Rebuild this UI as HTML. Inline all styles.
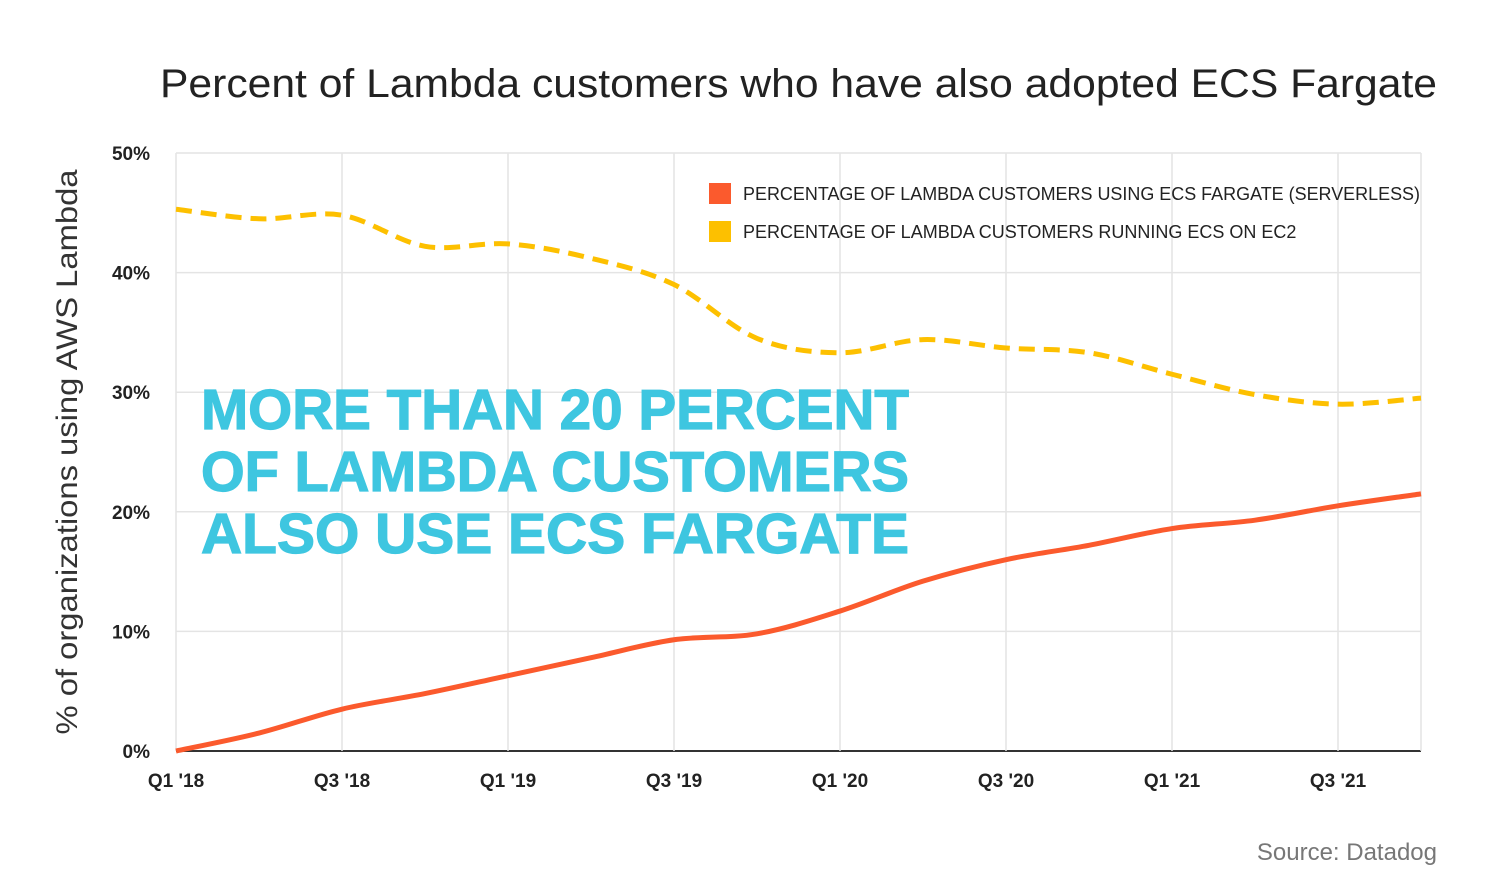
<!DOCTYPE html>
<html><head><meta charset="utf-8"><style>
html,body{margin:0;padding:0;background:#fff;}
svg{display:block;font-family:"Liberation Sans",sans-serif;}
</style></head><body>
<svg id="c" width="1500" height="891">
<text x="160" y="97" font-size="40" fill="#222" textLength="1277" lengthAdjust="spacingAndGlyphs">Percent of Lambda customers who have also adopted ECS Fargate</text>
<text transform="translate(77,452) rotate(-90)" text-anchor="middle" font-size="30" fill="#333" textLength="565" lengthAdjust="spacingAndGlyphs">% of organizations using AWS Lambda</text>
<g id="grid"></g><g id="series"></g>
<g>
<rect x="709" y="183" width="22" height="21" fill="#fb5a2d"/>
<text x="743" y="200" font-size="18" fill="#222" textLength="677" lengthAdjust="spacingAndGlyphs">PERCENTAGE OF LAMBDA CUSTOMERS USING ECS FARGATE (SERVERLESS)</text>
<rect x="709" y="221" width="22" height="21" fill="#fdc000"/>
<text x="743" y="238" font-size="18" fill="#222">PERCENTAGE OF LAMBDA CUSTOMERS RUNNING ECS ON EC2</text>
</g>
<g font-size="57" font-weight="bold" fill="#3ec6e0" stroke="#3ec6e0" stroke-width="1.2">
<text x="201" y="429" textLength="708" lengthAdjust="spacingAndGlyphs">MORE THAN 20 PERCENT</text>
<text x="201" y="491" textLength="708" lengthAdjust="spacingAndGlyphs">OF LAMBDA CUSTOMERS</text>
<text x="201" y="553" textLength="708" lengthAdjust="spacingAndGlyphs">ALSO USE ECS FARGATE</text>
</g>
<text x="1437" y="860" text-anchor="end" font-size="24" fill="#777">Source: Datadog</text>
</svg>
<script>
const quarters=["Q1 '18","Q2 '18","Q3 '18","Q4 '18","Q1 '19","Q2 '19","Q3 '19","Q4 '19","Q1 '20","Q2 '20","Q3 '20","Q4 '20","Q1 '21","Q2 '21","Q3 '21","Q4 '21"];
const fargate=[0,1.5,3.5,4.8,6.3,7.8,9.3,9.8,11.7,14.2,16.0,17.2,18.6,19.3,20.5,21.5];
const ec2=[45.3,44.5,44.8,42.2,42.4,41.2,39.0,34.5,33.3,34.4,33.7,33.3,31.5,29.8,29.0,29.5];
const yTicks=[0,10,20,30,40,50];
const NS="http://www.w3.org/2000/svg";
const x=i=>176+i*(1421-176)/(quarters.length-1);
const y=v=>751-v*(751-153)/50;
function mk(t,a,p){const e=document.createElementNS(NS,t);for(const k in a)e.setAttribute(k,a[k]);p.appendChild(e);return e;}
const grid=document.getElementById('grid'),ser=document.getElementById('series');
yTicks.forEach(v=>{
 const l=mk('line',{x1:176,x2:1421,y1:y(v),y2:y(v),stroke:v===0?'#333':'#e4e4e4','stroke-width':v===0?2:1.5},grid);
 
 
 const t=mk('text',{x:150,y:y(v)+7,'text-anchor':'end','font-size':19,'font-weight':'bold',fill:'#222'},grid);
 t.textContent=v+'%';
 
 
});
quarters.forEach((q,i)=>{
 if(i%2)return;
 const l=mk('line',{x1:x(i),x2:x(i),y1:153,y2:751,stroke:'#e4e4e4','stroke-width':1.5},grid);
 
 
 const t=mk('text',{x:x(i),y:787,'text-anchor':'middle','font-size':19,'font-weight':'bold',fill:'#222'},grid);
 t.textContent=q;
 
 
});
const vr=mk('line',{x1:1421,x2:1421,y1:153,y2:751,stroke:'#e4e4e4','stroke-width':1.5},grid);


function path(vals){const p=vals.map((v,i)=>[x(i),y(v)]);let d='M'+p[0];
 for(let i=0;i<p.length-1;i++){const p0=p[i-1]||p[i],p1=p[i],p2=p[i+1],p3=p[i+2]||p2;
  d+=' C'+(p1[0]+(p2[0]-p0[0])/6)+','+(p1[1]+(p2[1]-p0[1])/6)+' '+(p2[0]-(p3[0]-p1[0])/6)+','+(p2[1]-(p3[1]-p1[1])/6)+' '+p2;}
 return d;}
const e=mk('path',{d:path(ec2),fill:'none',stroke:'#fdc000','stroke-width':5,'stroke-dasharray':'16 9'},ser);


const f=mk('path',{d:path(fargate),fill:'none',stroke:'#fb5a2d','stroke-width':5},ser);


</script>
</body></html>
